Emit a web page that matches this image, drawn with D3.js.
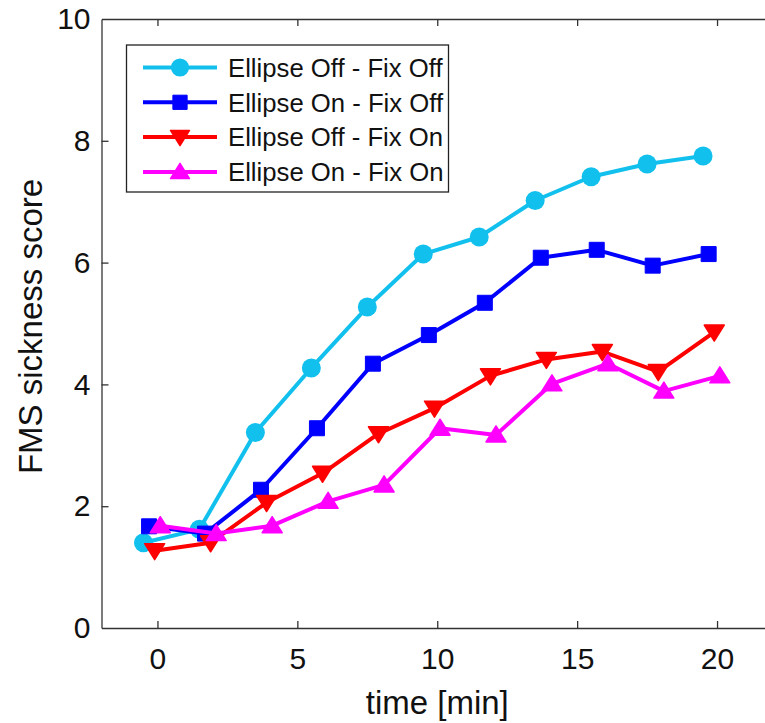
<!DOCTYPE html>
<html>
<head>
<meta charset="utf-8">
<script src="https://cdn.jsdelivr.net/npm/d3@7"></script>
<style>
  html, body { margin: 0; padding: 0; background: #fff; }
  svg { display: block; font-family: "Liberation Sans", Arial, sans-serif; }
</style>
</head>
<body>
<svg id="chart" width="765" height="723"></svg>
<script>
// ---- data ----
const times = [0, 2, 4, 6, 8, 10, 12, 14, 16, 18, 20];
const seriesNames = ["Ellipse Off - Fix Off", "Ellipse On - Fix Off", "Ellipse Off - Fix On", "Ellipse On - Fix On"];
const ellipseOffFixOff = [1.40, 1.62, 3.21, 4.27, 5.27, 6.14, 6.42, 7.02, 7.41, 7.62, 7.75];
const ellipseOnFixOff  = [1.67, 1.55, 2.27, 3.28, 4.34, 4.81, 5.34, 6.08, 6.21, 5.95, 6.14];
const ellipseOffFixOn  = [1.27, 1.40, 2.06, 2.54, 3.19, 3.61, 4.14, 4.41, 4.54, 4.21, 4.86];
const ellipseOnFixOn   = [1.68, 1.55, 1.68, 2.08, 2.35, 3.28, 3.17, 4.01, 4.34, 3.89, 4.14];
const timeDodge = [-0.5, -0.3, -0.1, 0.1];   // horizontal dodge (minutes) per series
const xTicks = [0, 5, 10, 15, 20];
const yTicks = [0, 2, 4, 6, 8, 10];
const xLabel = "time [min]";
const yLabel = "FMS sickness score";

// ---- styles ----
const colors = ["#12c0ee", "#0000ff", "#ff0000", "#ff00ff"];
const markers = ["circle", "square", "down", "up"];

const svg = d3.select("#chart");
const x = d3.scaleLinear().domain([-2, 22]).range([101.5, 773]);
const y = d3.scaleLinear().domain([0, 10]).range([628, 19]);
const axisColor = "#333";
const textColor = "#111";

// axes
const gx = svg.append("g").attr("transform", `translate(0,${y(0)})`)
  .call(d3.axisBottom(x).tickValues(xTicks).tickSizeInner(-7).tickSizeOuter(0).tickPadding(20));
const gxTop = svg.append("g").attr("transform", `translate(0,${y(10)})`)
  .call(d3.axisTop(x).tickValues(xTicks).tickSizeInner(-7).tickSizeOuter(0).tickFormat(""));
const gy = svg.append("g").attr("transform", `translate(${x(-2)},0)`)
  .call(d3.axisLeft(y).tickValues(yTicks).tickSizeInner(-7).tickSizeOuter(0).tickPadding(11));
[gx, gxTop, gy].forEach(g => {
  g.select(".domain").attr("stroke", axisColor).attr("stroke-width", 1.3);
  g.selectAll(".tick line").attr("stroke", axisColor).attr("stroke-width", 1.3);
  g.selectAll(".tick text").attr("fill", textColor).attr("font-size", 30)
    .attr("font-family", "'Liberation Sans', Arial, sans-serif");
});
// remove edge ticks that would sit on the box corners
gy.selectAll(".tick").filter(d => d === 0 || d === 10).select("line").remove();

// axis labels
svg.append("text").attr("x", x(10)).attr("y", 714)
  .attr("text-anchor", "middle").attr("font-size", 33).attr("fill", textColor).text(xLabel);
svg.append("text").attr("transform", `translate(42,${(y(0) + y(10)) / 2 + 3}) rotate(-90)`)
  .attr("text-anchor", "middle").attr("font-size", 33).attr("fill", textColor).text(yLabel);

// series
const seriesData = [ellipseOffFixOff, ellipseOnFixOff, ellipseOffFixOn, ellipseOnFixOn];
const line = d3.line().x(d => x(d.t)).y(d => y(d.v));

function drawMarker(g, type, cx, cy, color, scale) {
  const s = scale || 1;
  if (type === "circle") {
    g.append("circle").attr("cx", cx).attr("cy", cy).attr("r", 9.5 * s).attr("fill", color);
  } else if (type === "square") {
    g.append("rect").attr("x", cx - 7.5 * s).attr("y", cy - 7.5 * s)
      .attr("width", 15 * s).attr("height", 15 * s).attr("fill", color)
      .attr("stroke", color).attr("stroke-width", 1).attr("stroke-linejoin", "round");
  } else if (type === "down") {
    const p = d3.path();
    p.moveTo(cx - 10 * s, cy - 7 * s); p.lineTo(cx + 10 * s, cy - 7 * s); p.lineTo(cx, cy + 9 * s); p.closePath();
    g.append("path").attr("d", p.toString()).attr("fill", color)
      .attr("stroke", color).attr("stroke-width", 1.5).attr("stroke-linejoin", "round");
  } else {
    const p = d3.path();
    p.moveTo(cx - 10 * s, cy + 7 * s); p.lineTo(cx + 10 * s, cy + 7 * s); p.lineTo(cx, cy - 9 * s); p.closePath();
    g.append("path").attr("d", p.toString()).attr("fill", color)
      .attr("stroke", color).attr("stroke-width", 1.5).attr("stroke-linejoin", "round");
  }
}

seriesData.forEach((vals, i) => {
  const pts = vals.map((v, k) => ({ t: times[k] + timeDodge[i], v }));
  const g = svg.append("g");
  g.append("path").datum(pts).attr("d", line).attr("fill", "none")
    .attr("stroke", colors[i]).attr("stroke-width", 4).attr("stroke-linejoin", "round");
  pts.forEach(p => drawMarker(g, markers[i], x(p.t), y(p.v), colors[i]));
});

// legend
const lg = svg.append("g");
lg.append("rect").attr("x", 126.5).attr("y", 45).attr("width", 322).attr("height", 147)
  .attr("fill", "#fff").attr("stroke", "#222").attr("stroke-width", 1.3);
seriesNames.forEach((name, i) => {
  const cy = 67.5 + i * 34.8;
  lg.append("line").attr("x1", 143).attr("x2", 217).attr("y1", cy).attr("y2", cy)
    .attr("stroke", colors[i]).attr("stroke-width", 4);
  drawMarker(lg, markers[i], 180, cy, colors[i], 0.95);
  lg.append("text").attr("x", 228).attr("y", cy).attr("dy", "0.36em")
    .attr("font-size", 25.7).attr("fill", textColor).text(name);
});
</script>
</body>
</html>
